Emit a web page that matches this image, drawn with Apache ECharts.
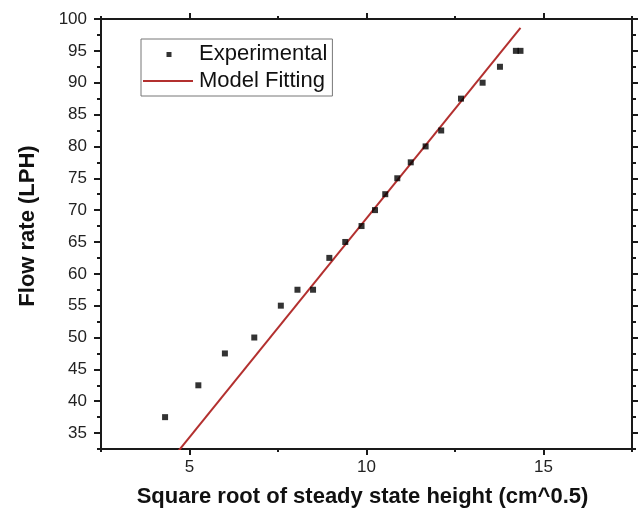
<!DOCTYPE html>
<html>
<head>
<meta charset="utf-8">
<script src="https://cdn.jsdelivr.net/npm/echarts@6/dist/echarts.min.js"></script>
<style>html,body{margin:0;padding:0;background:#fff}#c{width:642px;height:516px}</style>
</head>
<body>
<div id="c"></div>
<script>
const expX = [4.31, 5.25, 6.00, 6.83, 7.58, 8.05, 8.49, 8.95, 9.40, 9.86, 10.24, 10.53, 10.87, 11.25, 11.67, 12.11, 12.67, 13.28, 13.77, 14.22, 14.35];
const expY = [37.5, 42.5, 47.5, 50, 55, 57.5, 57.5, 62.5, 65, 67.5, 70, 72.5, 75, 77.5, 80, 82.5, 87.5, 90, 92.5, 95, 95];
// Model fitting line end points
const fitX = [4.31, 14.35];
const fitY = [29.6, 98.6];
// Tick values
const xMajorTicks = [5, 10, 15];
const xMinorTicks = [2.5, 7.5, 12.5, 17.5];
const yMajorTicks = [35, 40, 45, 50, 55, 60, 65, 70, 75, 80, 85, 90, 95, 100];
const yMinorTicks = [32.5, 37.5, 42.5, 47.5, 52.5, 57.5, 62.5, 67.5, 72.5, 77.5, 82.5, 87.5, 92.5, 97.5];

const FONT = "'Liberation Sans', Arial, sans-serif";
const AX = '#1a1a1a';
const LINE_COLOR = '#b3302f';
const XMIN = 2.5, XMAX = 17.5, YMIN = 32.5, YMAX = 100;

function xAx(pos, ticks, len, opts) {
  return Object.assign({
    type: 'value', position: pos, min: XMIN, max: XMAX,
    axisLine: { show: true, onZero: false, lineStyle: { color: AX, width: 2 } },
    axisTick: { show: true, inside: false, length: len, customValues: ticks, lineStyle: { color: AX, width: 2 } },
    axisLabel: { show: false },
    splitLine: { show: false }
  }, opts || {});
}
function yAx(pos, ticks, len, opts) {
  return Object.assign({
    type: 'value', position: pos, min: YMIN, max: YMAX,
    axisLine: { show: true, onZero: false, lineStyle: { color: AX, width: 2 } },
    axisTick: { show: true, inside: false, length: len, customValues: ticks, lineStyle: { color: AX, width: 2 } },
    axisLabel: { show: false },
    splitLine: { show: false }
  }, opts || {});
}

const chart = echarts.init(document.getElementById('c'), null, { renderer: 'canvas' });
chart.setOption({
  animation: false,
  backgroundColor: '#fff',
  textStyle: { fontFamily: FONT },
  grid: { left: 101, right: 10, top: 19, bottom: 67 },
  legend: {
    orient: 'vertical', left: 141, top: 39,
    padding: [4, 5, 4, 2],
    itemGap: 5,
    itemWidth: 52, itemHeight: 6,
    borderColor: '#777', borderWidth: 1,
    textStyle: { fontFamily: FONT, fontSize: 22, color: '#111' },
    data: [
      { name: 'Experimental', icon: 'path://M0 0M50 6M23.5 1h5v5h-5z' },
      { name: 'Model Fitting', icon: 'path://M0 0M50 6M0 2.1h50v1.8h-50z' }
    ]
  },
  xAxis: [
    xAx('bottom', xMajorTicks, 6, {
      name: 'Square root of steady state height (cm^0.5)', nameLocation: 'middle', nameGap: 37,
      nameTextStyle: { fontFamily: FONT, fontSize: 22, fontWeight: 'bold', color: '#111', padding: [0, 8, 0, 0] },
      axisLabel: { show: true, customValues: xMajorTicks, margin: 10, fontSize: 17, color: '#222', fontFamily: FONT }
    }),
    xAx('bottom', xMinorTicks, 3),
    xAx('top', xMajorTicks, 6),
    xAx('top', xMinorTicks, 3)
  ],
  yAxis: [
    yAx('left', yMajorTicks, 7, {
      name: 'Flow rate (LPH)', nameLocation: 'middle', nameGap: 62,
      nameTextStyle: { fontFamily: FONT, fontSize: 22, fontWeight: 'bold', color: '#111', padding: [0, 0, 0, 16] },
      axisLabel: { show: true, customValues: yMajorTicks, margin: 14, fontSize: 17, color: '#222', fontFamily: FONT }
    }),
    yAx('left', yMinorTicks, 4),
    yAx('right', yMajorTicks, 6),
    yAx('right', yMinorTicks, 4)
  ],
  series: [
    {
      name: 'Model Fitting', type: 'line', xAxisIndex: 0, yAxisIndex: 0,
      data: fitX.map((x, i) => [x, fitY[i]]),
      symbol: 'none', showSymbol: false, clip: true, z: 2,
      lineStyle: { color: LINE_COLOR, width: 2 },
      itemStyle: { color: LINE_COLOR }
    },
    {
      name: 'Experimental', type: 'scatter', xAxisIndex: 0, yAxisIndex: 0,
      data: expX.map((x, i) => [x, expY[i]]),
      symbol: 'rect', symbolSize: 6, z: 3,
      itemStyle: { color: '#000' }
    }
  ]
});
</script>
</body>
</html>
